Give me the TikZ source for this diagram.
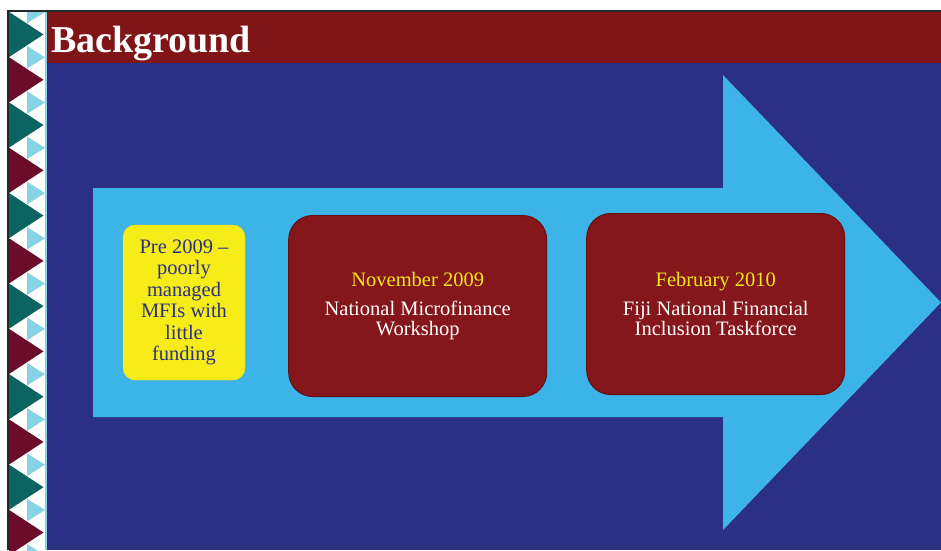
\documentclass[tikz,border=0pt]{standalone}
\usepackage{fontspec}
\setmainfont{Liberation Serif}
\usetikzlibrary{positioning}
\definecolor{navy}{HTML}{2B3085}
\definecolor{skyblue}{HTML}{3CB4E7}
\definecolor{titlered}{HTML}{7F1517}
\definecolor{boxred}{HTML}{85161B}
\definecolor{boxyellow}{HTML}{F5EC18}
\definecolor{gold}{HTML}{F3E81C}
\definecolor{teal}{HTML}{0B6461}
\definecolor{maroon}{HTML}{6C0C2B}
\definecolor{paleblue}{HTML}{86D3E6}
\begin{document}
\begin{tikzpicture}[x=1pt,y=-1pt,
  pre/.style={rounded corners=12pt,fill=boxyellow,draw=boxyellow!85!orange,
    minimum width=122pt,minimum height=155pt,align=center,text=navy,
    font=\fontsize{20.5}{21.5}\selectfont},
  stage/.style={rounded corners=24pt,fill=boxred,draw=boxred!75!black,
    line width=1pt,minimum width=258pt,minimum height=181pt,align=center,
    text=white,font=\fontsize{20.5}{20}\selectfont}]
\useasboundingbox (0,0) rectangle (941,550);
\fill[white] (0,0) rectangle (941,550);
% border strip
\begin{scope}
\clip (9,12) rectangle (46,550);
\foreach \i in {0,...,11} {
  \pgfmathsetmacro\yc{34.5+45.27*\i}
  \ifodd\i \def\tri{maroon}\else \def\tri{teal}\fi
  \fill[\tri] (9,\yc-22.6) -- (43.5,\yc) -- (9,\yc+22.6) -- cycle;
}
\foreach \k in {0,...,12} {
  \pgfmathsetmacro\yl{12+45.27*\k}
  \fill[paleblue] (27,\yl-11.3) -- (45,\yl) -- (27,\yl+11.3) -- cycle;
}
\end{scope}
\draw[paleblue,line width=1.5pt] (46.2,12) -- (46.2,550);
\draw[black!85,line width=2pt] (8,550) -- (8,11) -- (941,11);
% title and background
\fill[titlered] (47,12) rectangle (941,63);
\fill[navy] (47,63) rectangle (941,550);
\node[anchor=base west,inner sep=0pt,text=white,
  font=\fontsize{38}{38}\selectfont\bfseries] (title) at (51,52) {Background};
% arrow
\fill[skyblue] (93,188) -- (723,188) -- (723,75) -- (941,302.5)
  -- (723,530) -- (723,417) -- (93,417) -- cycle;
% boxes
\node[pre] (pre-2009) at (184,302.5)
  {Pre 2009 --\\ poorly\\ managed\\ MFIs with\\ little\\ funding};
\node[stage] (nov-2009) [right=43pt of pre-2009,yshift=-3.5pt]
  {{\color{gold}November 2009}\\[9pt] National Microfinance\\ Workshop};
\node[stage] (feb-2010) [right=39pt of nov-2009,yshift=2pt]
  {{\color{gold}February 2010}\\[9pt] Fiji National Financial\\ Inclusion Taskforce};
\end{tikzpicture}
\end{document}
